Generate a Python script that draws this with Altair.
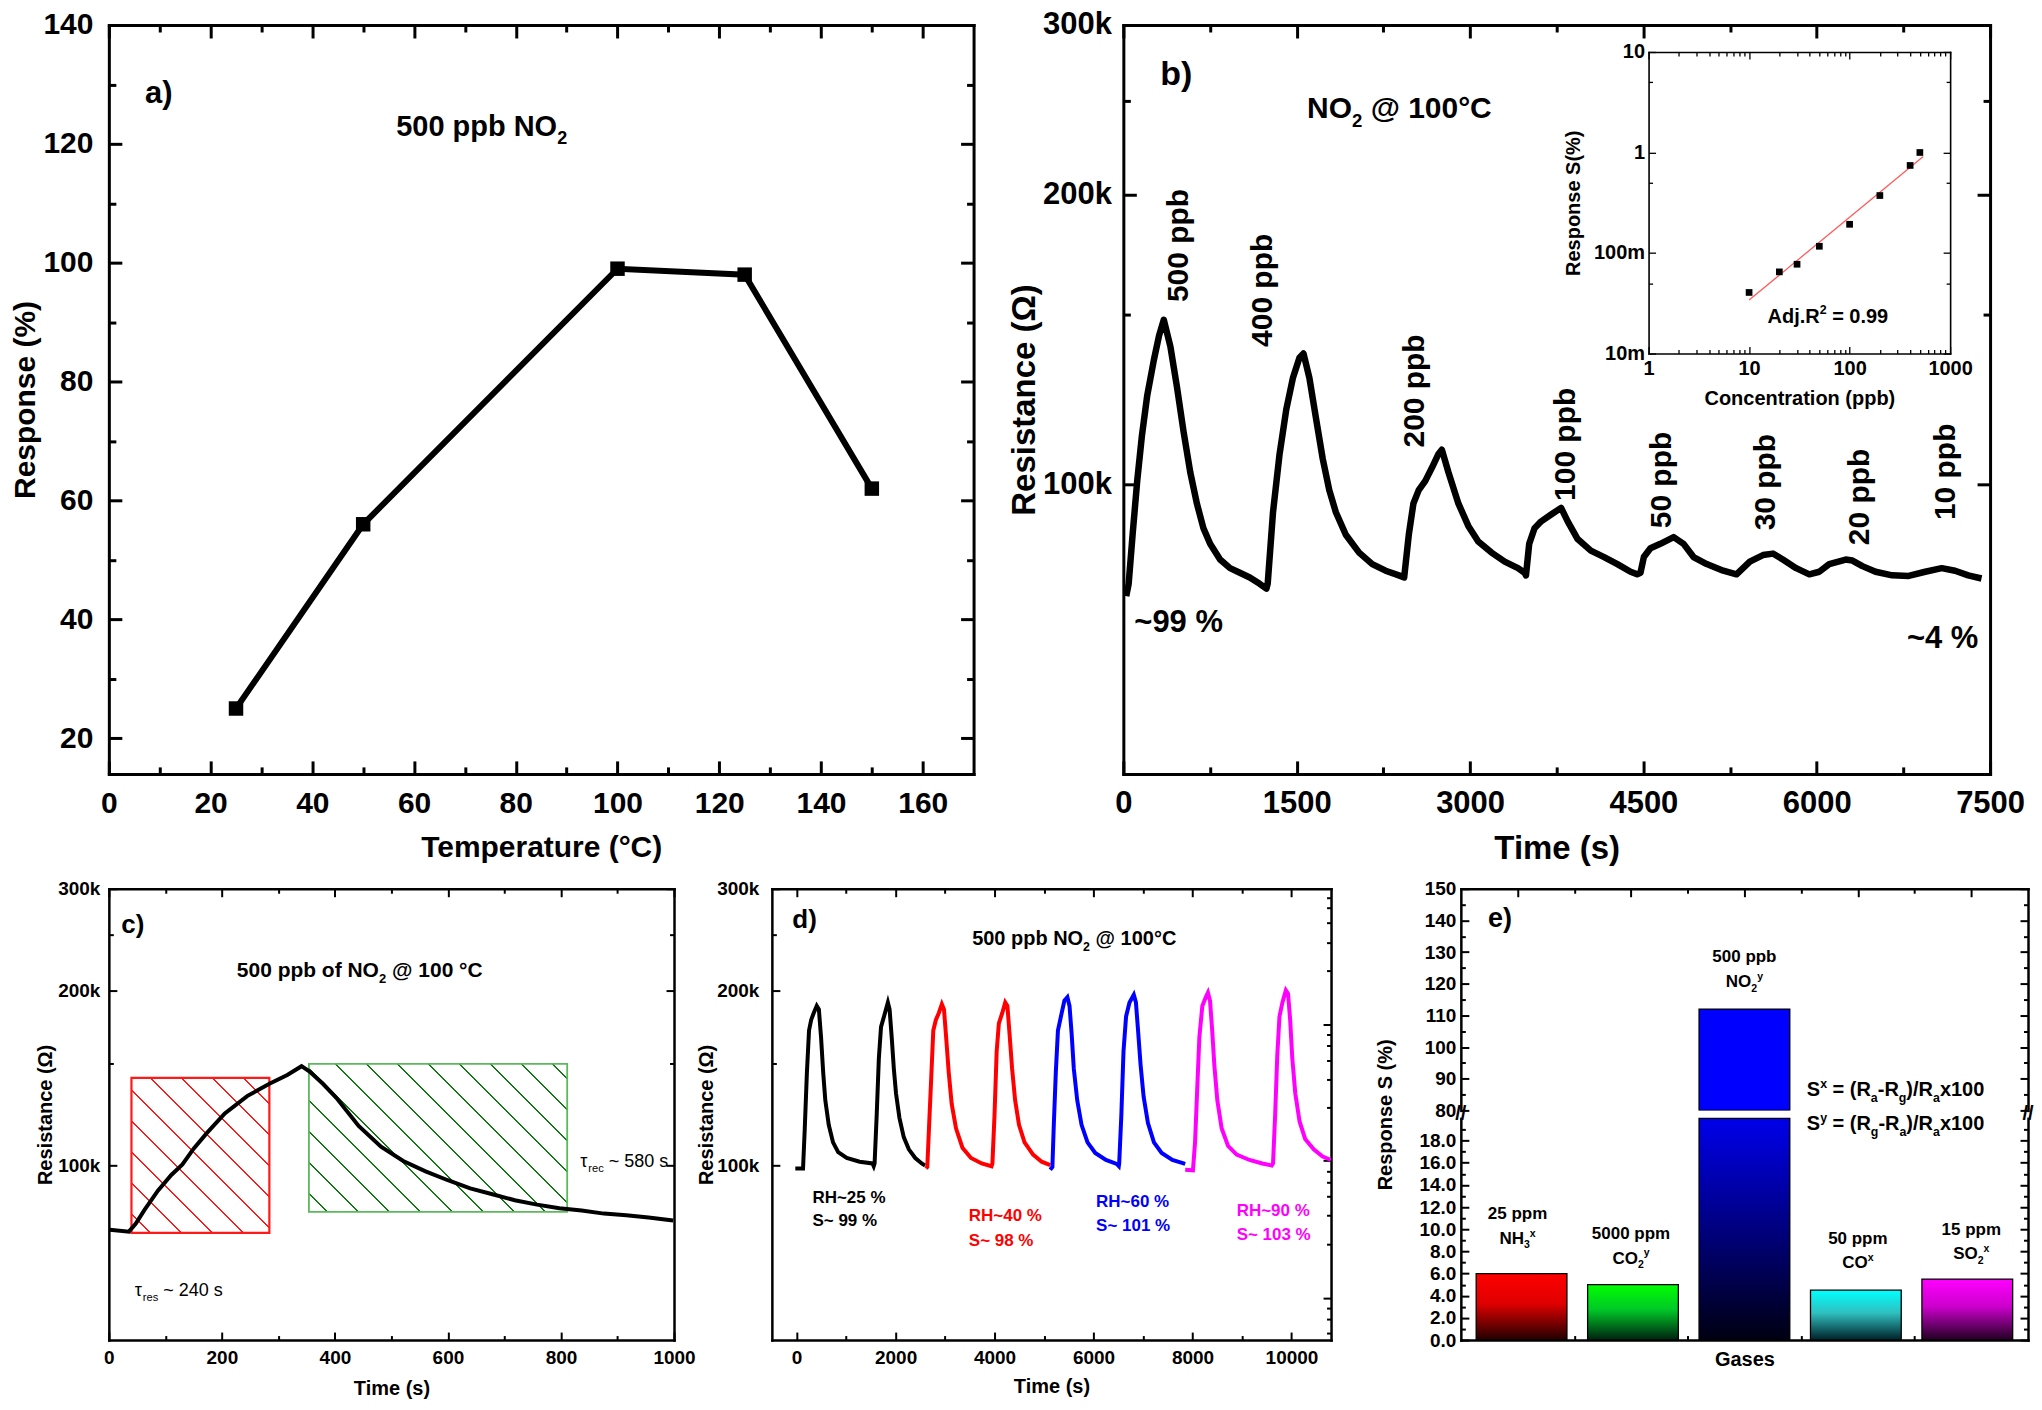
import math
import altair as alt
import pandas as pd

FONT = "Liberation Sans, Arial, Helvetica, sans-serif"

# ---------------- (a) response vs temperature ----------------
temp_c = [25, 50, 100, 125, 150]
resp_a = [25, 56, 99, 98, 62]

# ---------------- (b) dynamic response (time s, resistance kOhm) ----------------
b_curve = [(25, 76.5), (46, 78.8), (80, 88.6), (120, 100.8), (160, 112.1), (206, 123.5), (264, 134.6), (309, 142.7),
           (350, 148.2), (407, 139.0), (464, 126.2), (521, 113.4), (579, 102.9), (636, 95.5), (693, 90.0), (751, 86.7),
           (837, 83.5), (923, 81.8), (1008, 80.9), (1094, 80.0), (1180, 78.8), (1238, 77.9),
           (1249, 78.8), (1295, 93.5), (1352, 107.5), (1410, 119.6), (1467, 128.9), (1524, 135.3), (1559, 136.7),
           (1610, 128.9), (1667, 117.1), (1725, 106.3), (1782, 98.6), (1839, 93.5), (1925, 88.6), (2040, 84.9),
           (2154, 82.6), (2269, 81.3), (2384, 80.4), (2430, 80.0),
           (2470, 88.6), (2510, 95.5), (2556, 98.6), (2613, 100.8), (2670, 104.0), (2727, 107.5), (2756, 108.6),
           (2813, 102.9), (2899, 95.5), (2985, 90.5), (3071, 87.2), (3186, 84.9), (3300, 83.1), (3415, 81.8), (3472, 80.9),
           (3484, 80.4), (3512, 86.7), (3558, 90.0), (3616, 91.5), (3702, 93.0), (3788, 94.5), (3845, 91.5), (3931, 87.7),
           (4045, 85.3), (4160, 84.0), (4275, 82.6), (4389, 81.1), (4446, 80.6),
           (4475, 80.9), (4504, 84.0), (4561, 85.8), (4647, 86.7), (4762, 88.1), (4848, 86.7), (4934, 84.0), (5048, 82.6),
           (5191, 81.3), (5306, 80.6),
           (5421, 83.1), (5535, 84.4), (5621, 84.7), (5707, 83.5), (5822, 81.8), (5936, 80.6), (6022, 81.1),
           (6108, 82.6), (6251, 83.5), (6309, 83.3), (6395, 82.2), (6509, 81.1), (6653, 80.4), (6796, 80.3),
           (6939, 81.1), (7082, 81.8), (7197, 81.3), (7311, 80.4), (7426, 79.8)]
b_peak_text = ["500 ppb", "400 ppb", "200 ppb", "100 ppb", "50 ppb", "30 ppb", "20 ppb", "10 ppb"]
b_peak_t = [481, 1209, 2527, 3828, 4658, 5564, 6377, 7122]
b_peak_r = [177, 159, 125, 110, 101, 100.5, 97, 103]

inset_conc = [10, 20, 30, 50, 100, 200, 400, 500]
inset_resp = [0.0405, 0.0649, 0.0773, 0.1167, 0.193, 0.373, 0.743, 1.0]
fit_conc = [10, 540]
fit_resp = [0.034, 0.91]

# ---------------- (c) single pulse ----------------
c_curve = [(1.6, 77.5), (35.5, 76.9), (47.4, 79.3), (63.1, 83.8), (86.8, 90.5), (110.5, 96.3), (130.2, 100.4),
           (150, 106.9), (173.6, 113.8), (205.2, 122.9), (244.7, 131.7), (284.1, 138.3), (315.7, 143.2), (341, 148.3),
           (355.2, 145.2), (378.8, 138.3), (402.5, 130.8), (442, 117.0), (481.5, 107.7), (520.9, 101.8), (560.4, 97.7),
           (599.8, 94.3), (639.3, 91.3), (678.8, 89.2), (718.2, 87.1), (757.7, 85.6), (797.2, 84.4), (836.6, 83.6),
           (876.1, 82.6), (915.5, 82.1), (955, 81.3), (998.4, 80.4)]
c_res_box = (40, 284, 76.5, 141.6)     # t0, t1, R0, R1
c_rec_box = (354, 811, 83.2, 149.7)

# ---------------- (d) humidity ----------------
d_names = ["RH~25", "RH~40", "RH~60", "RH~90"]
d_colors = ["#000000", "#ff0000", "#0000ff", "#ff00ff"]
d_curves = {
    "RH~25": [(-26, 98.8), (130, 98.8), (165, 115.9), (208, 144.7), (251, 170.9), (294, 178.2), (346, 183.2),
              (407, 188.4), (450, 185.8), (494, 166.3), (537, 144.7), (580, 129.5), (649, 117.5), (736, 109.6),
              (840, 105.4), (1013, 103.0), (1273, 101.5), (1532, 100.8), (1558, 99.7), (1576, 100.8), (1619, 122.5),
              (1662, 153.0), (1706, 173.3), (1766, 180.7), (1844, 191.0), (1879, 185.8), (1922, 166.3), (1965, 146.7),
              (2009, 133.1), (2078, 120.8), (2165, 111.9), (2268, 106.6), (2398, 103.0), (2528, 100.8), (2597, 100.0)],
    "RH~40": [(2615, 98.8), (2641, 99.4), (2675, 115.9), (2719, 140.7), (2762, 170.9), (2814, 178.2), (2874, 183.2),
              (2935, 189.7), (2978, 185.8), (3022, 166.3), (3074, 144.7), (3134, 127.7), (3221, 115.9), (3351, 107.3),
              (3524, 103.0), (3740, 100.8), (3939, 99.7), (3957, 100.8), (4000, 122.5), (4043, 157.3), (4087, 175.7),
              (4156, 183.2), (4216, 191.0), (4260, 188.4), (4303, 168.6), (4355, 146.7), (4416, 129.5), (4494, 117.5),
              (4606, 109.6), (4779, 104.4), (4952, 101.5), (5125, 100.1)],
    "RH~60": [(5125, 98.3), (5169, 99.4), (5195, 115.9), (5238, 144.7), (5281, 170.9), (5342, 180.7), (5411, 192.3),
              (5472, 195.0), (5515, 188.4), (5558, 168.6), (5602, 146.7), (5671, 129.5), (5758, 117.5), (5879, 109.6),
              (6035, 105.1), (6251, 102.2), (6468, 100.6), (6511, 99.7), (6519, 100.8), (6563, 122.5), (6606, 157.3),
              (6658, 180.7), (6727, 191.0), (6814, 197.0), (6857, 191.0), (6900, 170.9), (6952, 148.8), (7013, 131.3),
              (7100, 118.3), (7221, 109.6), (7377, 105.1), (7593, 102.2), (7853, 100.6)],
    "RH~90": [(7853, 98.3), (8009, 98.1), (8052, 109.6), (8095, 135.0), (8139, 166.3), (8199, 188.4), (8268, 195.0),
              (8312, 198.6), (8355, 192.3), (8398, 170.9), (8442, 148.8), (8502, 129.5), (8589, 115.9), (8719, 108.1),
              (8892, 104.4), (9152, 102.2), (9411, 100.8), (9602, 100.0), (9628, 100.8), (9671, 122.5), (9714, 155.1),
              (9758, 180.7), (9818, 191.0), (9887, 200.5), (9931, 197.8), (9974, 178.2), (10017, 153.0),
              (10078, 133.1), (10164, 119.1), (10277, 111.1), (10450, 106.6), (10623, 103.7), (10796, 102.2)],
}
d_rh_text = ["RH~25 %", "RH~40 %", "RH~60 %", "RH~90 %"]
d_s_text = ["S~ 99 %", "S~ 98 %", "S~ 101 %", "S~ 103 %"]
d_text_t = [320, 3480, 6052, 8892]
d_rh_r = [86.0, 80.2, 84.8, 81.9]
d_s_r = [78.5, 72.7, 77.1, 74.5]
# odd secondary tick marks on the right edge of (d) (kOhm on the left scale)
d_right_major = [175.0, 102.1, 59.1]
d_right_minor = [289.5, 278.2, 262.2, 242.2, 216.8, 168.2, 161.0, 151.7, 140.7, 126.0,
                 97.7, 93.6, 88.5, 82.1, 73.2, 56.8, 54.4, 51.4]

# ---------------- (e) selectivity ----------------
e_gas = ["NH3", "CO2", "NO2", "CO", "SO2"]
e_pos = [1, 2, 3, 4, 5]
e_val = [6.0, 5.0, 112.0, 4.5, 5.5]
e_conc = ["25 ppm", "5000 ppm", "500 ppb", "50 ppm", "15 ppm"]
e_name = [[("NH", "n"), ("3", "sub"), ("x", "sup")], [("CO", "n"), ("2", "sub"), ("y", "sup")],
          [("NO", "n"), ("2", "sub"), ("y", "sup")], [("CO", "n"), ("x", "sup")],
          [("SO", "n"), ("2", "sub"), ("x", "sup")]]
e_lab_y1 = [10.9, 9.1, 126.8, 8.7, 9.5]
e_lab_y2 = [8.7, 6.9, 119.0, 6.5, 7.3]
e_grad = [["#ff0000", "#e00000", "#200000"], ["#00ff00", "#00c828", "#002010"], ["#0000ea", "#00008a", "#000012"],
          ["#00ffff", "#30c0c0", "#002028"], ["#ff00ff", "#cc00cc", "#200020"]]

# ======================= helpers =======================
BOLD_W = {' ': 278, '%': 889, '(': 333, ')': 333, '-': 333, '.': 278, '/': 278, '=': 584, '@': 975, '~': 584,
          '°': 400, 'A': 722, 'C': 722, 'H': 722, 'N': 722, 'O': 778, 'R': 722, 'S': 667, 'T': 611, 'a': 556,
          'b': 611, 'c': 556, 'd': 611, 'e': 556, 'f': 333, 'g': 611, 'j': 278, 'm': 889, 'o': 611, 'p': 611,
          'r': 389, 's': 556, 'x': 556, 'y': 556, 'τ': 520}
REG_W = {' ': 278, '~': 584, 's': 500, 'r': 333, 'e': 556, 'c': 500, 'τ': 450}


def tw(s, size, bold):
    tbl = BOLD_W if bold else REG_W
    return sum(tbl.get(ch, 556) for ch in s) * size / 1000.0


def X(sc, f="x"):
    return alt.X(f"{f}:Q", scale=sc, axis=None)


def Y(sc, f="y"):
    return alt.Y(f"{f}:Q", scale=sc, axis=None)


def text1(txt, x, y, xs, ys, size, color="black", bold=True, align="left", baseline="alphabetic", dy=0):
    df = pd.DataFrame({"x": [x], "y": [y]})
    return alt.Chart(df).mark_text(text=txt, fontSize=size, font=FONT, fontWeight="bold" if bold else "normal",
                                   color=color, align=align, baseline=baseline, dy=dy).encode(x=X(xs), y=Y(ys))


def rich(segs, x, y, xs, ys, size, color="black", bold=True, align="left"):
    pieces, pos = [], 0.0
    for txt, kind in segs:
        fs = size if kind == "n" else size * 0.62
        dy = 0 if kind == "n" else (size * 0.28 if kind == "sub" else -size * 0.42)
        stripped = txt.lstrip(" ")
        lead = tw(txt[:len(txt) - len(stripped)], fs, bold)
        pieces.append((stripped.rstrip(" "), pos + lead, dy, fs))
        pos += tw(txt, fs, bold)
    shift = -pos / 2 if align == "center" else 0
    df = pd.DataFrame({"x": [x], "y": [y]})
    out = []
    for txt, off, dy, fs in pieces:
        out.append(alt.Chart(df).mark_text(text=txt, fontSize=fs, font=FONT, fontWeight="bold" if bold else "normal",
                                           color=color, align="left", baseline="alphabetic", dx=off + shift, dy=dy)
                   .encode(x=X(xs), y=Y(ys)))
    return out


def anchor(px, py):
    # invisible point fixing the outer extent of a panel for the layout
    return alt.Chart(pd.DataFrame({"a": [0]})).mark_rule(color="white", strokeWidth=1).encode(
        x=alt.value(px), x2=alt.value(px), y=alt.value(py), y2=alt.value(py))


def tick_test(vals):
    return "indexof([" + ",".join(repr(float(v)) for v in vals) + "], datum.value) >= 0"


def frame(xs, ys, xdom, ydom, W, H, st, xmaj, xmin, ymaj, ymin, xfmt=None, yfmt=None, yexpr=None,
          xtitle=None, ytitle=None, box=None, sides=("bottom", "left", "top", "right"), xlabels=True,
          ylabels=True, ytitle_y=None, xticks_bottom=True, xticks_top=True, yright=None):
    fx0, fx1, fy0, fy1 = box if box else (0, W, 0, H)
    df = pd.DataFrame({"x": [xdom[0]], "y": [ydom[0]]})
    base = alt.Chart(df).mark_point(opacity=0)
    common = dict(grid=False, domainColor="black", domainWidth=st["dw"], domainCap="square", tickColor="black",
                  tickWidth=st["tw"], minExtent=0)

    def lab(orient, offset, vals, fmt, expr, title, labels, lpad, tpad, dom, ty=None):
        kw = dict(orient=orient, offset=offset, values=vals, labels=labels, ticks=False, tickSize=0, domain=dom,
                  labelFont=FONT, labelFontSize=st["ls"], labelFontWeight="bold", labelColor="black",
                  labelPadding=lpad, labelFlush=False, labelOverlap=False, titleFont=FONT,
                  titleFontSize=st["ts"], titleFontWeight="bold", titleColor="black", titlePadding=tpad,
                  title=title, **common)
        if fmt:
            kw["format"] = fmt
        if expr:
            kw["labelExpr"] = expr
        if ty is not None:
            kw["titleY"] = ty
        return alt.Axis(**kw)

    def tk(orient, offset, vals, major, dom):
        return alt.Axis(orient=orient, offset=offset, values=vals, labels=False, title=None, domain=dom,
                        ticks=True, tickSize={"condition": {"test": tick_test(major), "value": st["tmaj"]},
                                              "value": st["tmin"]}, **common)

    xall = list(xmaj) + list(xmin)
    yall = list(ymaj) + list(ymin)
    rmaj, rall = (ymaj, yall) if yright is None else (yright[0], list(yright[0]) + list(yright[1]))
    l1 = base.encode(
        x=alt.X("x:Q", scale=xs, axis=lab("bottom", fy1 - H, list(xmaj), xfmt, None, xtitle, xlabels,
                                          st["lpx"], st["tpx"], "bottom" in sides)),
        y=alt.Y("y:Q", scale=ys, axis=lab("left", -fx0, list(ymaj), yfmt, yexpr, ytitle, ylabels,
                                          st["lpy"], st["tpy"], "left" in sides, ytitle_y)))
    l2 = base.encode(
        x=alt.X("x:Q", scale=xs, axis=tk("top", -fy1, xall if xticks_bottom else [], xmaj, False)),
        y=alt.Y("y:Q", scale=ys, axis=tk("right", fx0 - W, yall, ymaj, False)))
    l3 = base.encode(
        x=alt.X("x:Q", scale=xs, axis=tk("bottom", fy0 - H, xall if xticks_top else [], xmaj, "top" in sides)),
        y=alt.Y("y:Q", scale=ys, axis=tk("left", -fx1, rall, rmaj, "right" in sides)))
    return [l1, l2, l3]


def hatch(color, wpx, hpx, spacing=22.0, lw=1.4):
    a, b = 1.0, hpx / wpx
    k = (a + b) / (a * a + b * b)
    L = (wpx + hpx) / math.sqrt(2)
    h = lw / 2.0 / L
    clear = "rgba(255,255,255,0)"
    stops = [alt.GradientStop(offset=0, color=clear)]
    p = spacing * 0.6
    while p + lw < L:
        c = p / L
        stops += [alt.GradientStop(offset=c - h, color=clear), alt.GradientStop(offset=c - h, color=color),
                  alt.GradientStop(offset=c + h, color=color), alt.GradientStop(offset=c + h, color=clear)]
        p += spacing
    stops.append(alt.GradientStop(offset=1, color=clear))
    return alt.LinearGradient(gradient="linear", stops=stops, x1=0, y1=1, x2=a * k, y2=1 - b * k)


def panel(layers, W, H):
    return alt.layer(*layers).properties(width=W, height=H).resolve_scale(x="independent", y="independent",
                                                                          color="independent")


ST_A = dict(ls=30, ts=30, tmaj=13, tmin=7, tw=3, dw=3, lpx=15, lpy=16, tpx=14, tpy=2)
ST_B = dict(ls=31, ts=33, tmaj=13, tmin=7, tw=3, dw=3, lpx=15, lpy=12, tpx=14, tpy=1)
ST_IN = dict(ls=20, ts=20, tmaj=7, tmin=4, tw=1.3, dw=1.6, lpx=5, lpy=4, tpx=10, tpy=10)
ST_C = dict(ls=19, ts=20, tmaj=8, tmin=4.5, tw=2, dw=2.5, lpx=8, lpy=9, tpx=12, tpy=2)
ST_D = dict(ST_C, lpy=13, tpy=0, tpx=10)
ST_E = dict(ST_C, lpy=5, tpy=23, tpx=9)
KEXPR = "datum.value + 'k'"
LEFT_EXT = 100

# ======================= panel a =======================
W_A, H_A = 866, 750
sxa = alt.Scale(domain=[0, 170], nice=False, zero=False)
sya = alt.Scale(domain=[14, 140], nice=False, zero=False)
df_a = pd.DataFrame({"x": temp_c, "y": resp_a})
panel_a = panel([
    anchor(-LEFT_EXT, H_A + 96),
    alt.Chart(df_a).mark_line(color="black", strokeWidth=6).encode(x=X(sxa), y=Y(sya)),
    alt.Chart(df_a).mark_square(color="black", size=210, opacity=1).encode(x=X(sxa), y=Y(sya)),
    text1("a)", 7.1, 126.8, sxa, sya, 31),
    *rich([("500 ppb NO", "n"), ("2", "sub")], 56.5, 121.3, sxa, sya, 29),
    *frame(sxa, sya, [0, 170], [14, 140], W_A, H_A, ST_A, list(range(0, 161, 20)), list(range(10, 160, 20)),
           list(range(20, 141, 20)), list(range(30, 140, 20)), xfmt="d", yfmt="d",
           xtitle="Temperature (°C)", ytitle="Response (%)"),
], W_A, H_A)

# ======================= panel b =======================
W_B, H_B = 868, 750
sxb = alt.Scale(domain=[0, 7500], nice=False, zero=False)
syb = alt.Scale(type="log", domain=[50, 300], nice=False)
IN_BOX = (526, 828, 27, 329)
sxi = alt.Scale(type="log", domain=[1, 1000], range=[IN_BOX[0], IN_BOX[1]], nice=False)
syi = alt.Scale(type="log", domain=[0.01, 10], range=[IN_BOX[3], IN_BOX[2]], nice=False)
df_b = pd.DataFrame(b_curve, columns=["x", "y"])
df_bp = pd.DataFrame({"x": b_peak_t, "y": b_peak_r, "t": b_peak_text})
df_in = pd.DataFrame({"x": inset_conc, "y": inset_resp})
df_fit = pd.DataFrame({"x": fit_conc, "y": fit_resp})
in_xmin = [m * d for d in (1, 10, 100) for m in range(2, 10)]
panel_b = panel([
    alt.Chart(df_b).mark_line(color="black", strokeWidth=6.5, strokeJoin="round", clip=True)
    .encode(x=X(sxb), y=Y(syb), order="x:Q"),
    alt.Chart(df_bp).mark_text(angle=270, align="center", baseline="middle", fontSize=30, font=FONT,
                               fontWeight="bold", color="black").encode(x=X(sxb), y=Y(syb), text="t:N"),
    text1("b)", 320, 259.6, sxb, syb, 34),
    *rich([("NO", "n"), ("2", "sub"), (" @ 100°C", "n")], 1590, 240, sxb, syb, 30),
    text1("~99 %", 95, 70.2, sxb, syb, 31),
    text1("~4 %", 7398, 67.6, sxb, syb, 31, align="right"),
    alt.Chart(df_fit).mark_line(color="#ff5a5a", strokeWidth=1.3).encode(x=X(sxi), y=Y(syi)),
    alt.Chart(df_in).mark_square(color="black", size=45, opacity=1).encode(x=X(sxi), y=Y(syi)),
    *rich([("Adj.R", "n"), ("2", "sup"), (" = 0.99", "n")], 60.8, 0.0203, sxi, syi, 20, align="center"),
    *frame(sxb, syb, [0, 7500], [50, 300], W_B, H_B, ST_B, [0, 1500, 3000, 4500, 6000, 7500],
           [750, 2250, 3750, 5250, 6750], [100, 200, 300], [150, 250], xfmt="d", yexpr=KEXPR,
           xtitle="Time (s)", ytitle="Resistance (Ω)"),
    *frame(sxi, syi, [1, 1000], [0.01, 10], W_B, H_B, ST_IN, [1, 10, 100, 1000], in_xmin,
           [0.01, 0.1, 1, 10], [0.05, 0.5, 5], xfmt="d", yfmt="~s", xtitle="Concentration (ppb)",
           ytitle="Response S(%)", box=IN_BOX),
], W_B, H_B)

# ======================= panel c =======================
W_C, H_C = 566, 452
sxc = alt.Scale(domain=[0, 1000], nice=False, zero=False)
syc = alt.Scale(type="log", domain=[50, 300], nice=False)
PXS = W_C / 1000.0
PXD = H_C / math.log10(300 / 50)


def box_df(b):
    return pd.DataFrame({"x": [b[0]], "x2": [b[1]], "y": [b[2]], "y2": [b[3]]})


def box_px(b):
    return (b[1] - b[0]) * PXS, math.log10(b[3] / b[2]) * PXD


df_c = pd.DataFrame(c_curve, columns=["x", "y"])
panel_c = panel([
    anchor(-LEFT_EXT, -13),
    alt.Chart(box_df(c_res_box)).mark_rect(fill=hatch("#ff1a1a", *box_px(c_res_box)), stroke="#ff1a1a",
                                           strokeWidth=2.2)
    .encode(x=X(sxc), x2="x2:Q", y=Y(syc), y2="y2:Q"),
    alt.Chart(box_df(c_rec_box)).mark_rect(fill=hatch("#0f7a0f", *box_px(c_rec_box)), stroke="#5cb85c",
                                           strokeWidth=1.8)
    .encode(x=X(sxc), x2="x2:Q", y=Y(syc), y2="y2:Q"),
    alt.Chart(df_c).mark_line(color="black", strokeWidth=4).encode(x=X(sxc), y=Y(syc), order="x:Q"),
    text1("c)", 22, 251.7, sxc, syc, 26),
    *rich([("500 ppb of NO", "n"), ("2", "sub"), (" @ 100 °C", "n")], 226.5, 211.5, sxc, syc, 21),
    *rich([("τ", "n"), ("res", "sub"), (" ~ 240 s", "n")], 45.8, 59.6, sxc, syc, 18, bold=False),
    *rich([("τ", "n"), ("rec", "sub"), (" ~ 580 s", "n")], 834, 99.3, sxc, syc, 18, bold=False),
    *frame(sxc, syc, [0, 1000], [50, 300], W_C, H_C, ST_C, [0, 200, 400, 600, 800, 1000],
           [100, 300, 500, 700, 900], [100, 200, 300], [150, 250], xfmt="d", yexpr=KEXPR,
           xtitle="Time (s)", ytitle="Resistance (Ω)"),
], W_C, H_C)

# ======================= panel d =======================
W_D, H_D = 560, 452
sxd = alt.Scale(domain=[-500, 10800], nice=False, zero=False)
syd = alt.Scale(type="log", domain=[50, 300], nice=False)
rows = []
for nm in d_names:
    for t, r in d_curves[nm]:
        rows.append({"x": t, "y": r, "s": nm})
df_d = pd.DataFrame(rows)
df_dt = pd.DataFrame({"x": d_text_t, "y1": d_rh_r, "y2": d_s_r, "a": d_rh_text, "b": d_s_text, "c": d_colors})
panel_d = panel([
    alt.Chart(df_d).mark_line(strokeWidth=4, clip=True).encode(
        x=X(sxd), y=Y(syd), order="x:Q",
        color=alt.Color("s:N", scale=alt.Scale(domain=d_names, range=d_colors), legend=None)),
    alt.Chart(df_dt).mark_text(align="left", baseline="alphabetic", fontSize=17, font=FONT, fontWeight="bold")
    .encode(x=X(sxd), y=Y(syd, "y1"), text="a:N", color=alt.Color("c:N", scale=None)),
    alt.Chart(df_dt).mark_text(align="left", baseline="alphabetic", fontSize=17, font=FONT, fontWeight="bold")
    .encode(x=X(sxd), y=Y(syd, "y2"), text="b:N", color=alt.Color("c:N", scale=None)),
    text1("d)", -87, 257, sxd, syd, 26),
    *rich([("500 ppb NO", "n"), ("2", "sub"), (" @ 100°C", "n")], 5610, 239.6, sxd, syd, 20, align="center"),
    *frame(sxd, syd, [-500, 10800], [50, 300], W_D, H_D, ST_D, [0, 2000, 4000, 6000, 8000, 10000],
           [1000, 3000, 5000, 7000, 9000], [100, 200, 300], [150, 250], xfmt="d", yexpr=KEXPR,
           xtitle="Time (s)", ytitle="Resistance (Ω)", yright=(d_right_major, d_right_minor)),
], W_D, H_D)

# ======================= panel e =======================
W_E, H_EU, H_EL = 568, 222, 222
sxe = alt.Scale(domain=[0.5, 5.5], nice=False, zero=False)
syu = alt.Scale(domain=[80, 150], nice=False, zero=False)
syl = alt.Scale(domain=[0, 20], nice=False, zero=False)
BAR_PX = 0.8 * W_E / 5.0
df_e = pd.DataFrame({"x": e_pos, "v": e_val, "g": e_gas})

low_bars, up_bars, lab_lo, lab_up = [], [], [], []
for i, g in enumerate(e_gas):
    gstops = [alt.GradientStop(offset=0, color=e_grad[i][0]), alt.GradientStop(offset=0.45, color=e_grad[i][1]),
              alt.GradientStop(offset=1, color=e_grad[i][2])]
    grad = alt.LinearGradient(gradient="linear", stops=gstops, x1=0, y1=0, x2=0, y2=1)
    sub = alt.Chart(df_e).transform_filter(alt.datum.g == g)
    low_bars.append(sub.transform_calculate(vv="min(datum.v, 20)", z="0")
                    .mark_bar(size=BAR_PX, fill=grad, stroke="black", strokeWidth=1.3)
                    .encode(x=X(sxe), y=Y(syl, "vv"), y2="z:Q"))
    if e_val[i] > 80:
        up_bars.append(sub.transform_calculate(z="80")
                       .mark_bar(size=BAR_PX, fill="#0000ff", stroke="black", strokeWidth=1.3, clip=True)
                       .encode(x=X(sxe), y=Y(syu, "v"), y2="z:Q"))
        lab_up.append(text1(e_conc[i], e_pos[i], e_lab_y1[i], sxe, syu, 17, align="center"))
        lab_up += rich(e_name[i], e_pos[i], e_lab_y2[i], sxe, syu, 17, align="center")
    else:
        lab_lo.append(text1(e_conc[i], e_pos[i], e_lab_y1[i], sxe, syl, 17, align="center"))
        lab_lo += rich(e_name[i], e_pos[i], e_lab_y2[i], sxe, syl, 17, align="center")

F1 = [("S", "n"), ("x", "sup"), (" = (R", "n"), ("a", "sub"), ("-R", "n"), ("g", "sub"), (")/R", "n"),
      ("a", "sub"), ("x100", "n")]
F2 = [("S", "n"), ("y", "sup"), (" = (R", "n"), ("g", "sub"), ("-R", "n"), ("a", "sub"), (")/R", "n"),
      ("a", "sub"), ("x100", "n")]

e_up = panel([
    *up_bars, *lab_up,
    text1("e)", 0.74, 138, sxe, syu, 27),
    *rich(F1, 3.55, 84.4, sxe, syu, 20),
    text1("//", 0.5, 80, sxe, syu, 20, align="center", baseline="middle", dy=4),
    text1("//", 5.5, 80, sxe, syu, 20, align="center", baseline="middle", dy=4),
    *frame(sxe, syu, [0.5, 5.5], [80, 150], W_E, H_EU, ST_E, [1, 2, 3, 4, 5], [1.5, 2.5, 3.5, 4.5],
           list(range(80, 151, 10)), list(range(85, 150, 10)), yfmt="d", sides=("left", "top", "right"),
           xlabels=False, xticks_bottom=False),
], W_E, H_EU)

e_lo = panel([
    *low_bars, *lab_lo,
    *rich(F2, 3.55, 18.94, sxe, syl, 20),
    *frame(sxe, syl, [0.5, 5.5], [0, 20], W_E, H_EL, ST_E, [1, 2, 3, 4, 5], [1.5, 2.5, 3.5, 4.5],
           list(range(0, 19, 2)), list(range(1, 20, 2)), yfmt=".1f", sides=("bottom", "left", "right"),
           xlabels=False, xtitle="Gases", ytitle="Response S (%)", ytitle_y=-4, xticks_top=False),
], W_E, H_EL)


def spacer(w):
    return alt.Chart(pd.DataFrame({"x": [0], "y": [0]})).mark_point(opacity=0).encode(
        x=alt.X("x:Q", axis=None), y=alt.Y("y:Q", axis=None)).properties(width=w, height=10)


# ======================= layout =======================
top = alt.hconcat(panel_a, panel_b, spacing=150, bounds="flush")
e_panel = alt.vconcat(e_up, e_lo, spacing=8, bounds="flush")
bottom = alt.hconcat(panel_c, spacer(98), panel_d, spacer(130), e_panel, spacing=0, bounds="flush")
chart = (alt.vconcat(top, bottom, spacing=4)
         .properties(padding=0)
         .configure_view(strokeWidth=0)
         .configure_axis(grid=False))

chart.save("out.html", embed_options={"renderer": "svg", "actions": False})
